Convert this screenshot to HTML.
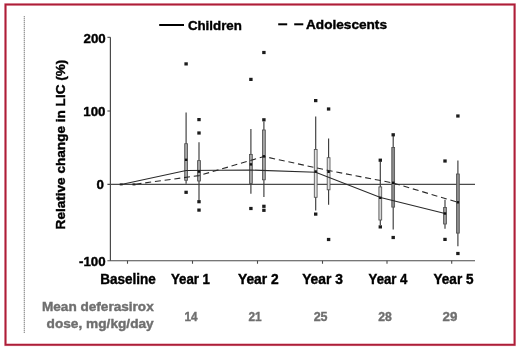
<!DOCTYPE html>
<html><head><meta charset="utf-8"><title>Relative change in LIC</title>
<style>
html,body{margin:0;padding:0;background:#fff;}
body{width:520px;height:351px;overflow:hidden;}
svg{display:block;}
text{font-family:"Liberation Sans",Arial,sans-serif;font-weight:bold;font-size:13.3px;fill:#000;stroke:#000;stroke-width:0.4px;}
.g{fill:#6f6f6f;stroke:#6f6f6f;}
</style></head><body>
<svg width="520" height="351" viewBox="0 0 520 351">
<rect x="0" y="0" width="520" height="351" fill="#fff"/>

<rect x="5.5" y="4.5" width="509.1" height="340.3" fill="none" stroke="#f3ccd2" stroke-width="2.8"/>
<rect x="5.5" y="4.5" width="509.1" height="340.3" fill="none" stroke="#ad1e38" stroke-width="1.9"/>
<line x1="24.3" y1="16" x2="24.3" y2="333" stroke="#cfcfcf" stroke-width="1"/>
<line x1="24.3" y1="16" x2="24.3" y2="333" stroke="#8c8c8c" stroke-width="1" stroke-dasharray="1 1"/>
<line x1="159.2" y1="25" x2="184" y2="25" stroke="#000" stroke-width="2"/>
<text transform="translate(187.9 30.0) scale(1.0 1)">Children</text>
<line x1="278.2" y1="24.3" x2="287.2" y2="24.3" stroke="#000" stroke-width="2"/>
<line x1="294.2" y1="24.3" x2="303.3" y2="24.3" stroke="#000" stroke-width="2"/>
<text transform="translate(306.0 29.1) scale(1.025 1)">Adolescents</text>
<line x1="110.4" y1="37.3" x2="110.4" y2="260.75" stroke="#4a4a4a" stroke-width="1.2"/>
<line x1="107.4" y1="260.75" x2="475" y2="260.75" stroke="#4a4a4a" stroke-width="1.2"/>
<line x1="107.4" y1="184.35" x2="475" y2="184.35" stroke="#4a4a4a" stroke-width="1.1"/>
<line x1="107.4" y1="37.3" x2="110.4" y2="37.3" stroke="#4a4a4a" stroke-width="1.1"/>
<line x1="107.4" y1="111.0" x2="110.4" y2="111.0" stroke="#4a4a4a" stroke-width="1.1"/>
<line x1="127.5" y1="260.75" x2="127.5" y2="263.75" stroke="#4a4a4a" stroke-width="1.1"/>
<line x1="192.5" y1="260.75" x2="192.5" y2="263.75" stroke="#4a4a4a" stroke-width="1.1"/>
<line x1="257.5" y1="260.75" x2="257.5" y2="263.75" stroke="#4a4a4a" stroke-width="1.1"/>
<line x1="322.5" y1="260.75" x2="322.5" y2="263.75" stroke="#4a4a4a" stroke-width="1.1"/>
<line x1="387.0" y1="260.75" x2="387.0" y2="263.75" stroke="#4a4a4a" stroke-width="1.1"/>
<line x1="451.7" y1="260.75" x2="451.7" y2="263.75" stroke="#4a4a4a" stroke-width="1.1"/>
<text transform="translate(105.7 42.5) scale(1.0 1)" text-anchor="end">200</text>
<text transform="translate(105.5 116.1) scale(1.0 1)" text-anchor="end">100</text>
<text transform="translate(103.9 188.6) scale(1.0 1)" text-anchor="end">0</text>
<text transform="translate(105.6 266.1) scale(1.0 1)" text-anchor="end">-100</text>
<text transform="translate(64.8 229.4) rotate(-90) scale(1.021 1)">Relative change in LIC (%)</text>
<text transform="translate(128 284.2) scale(0.98 1)" text-anchor="middle" style="font-size:13.8px">Baseline</text>
<text transform="translate(190.45 284.4) scale(0.96 1)" text-anchor="middle" style="font-size:13.8px">Year 1</text>
<text transform="translate(258.3 283.9) scale(1.0 1)" text-anchor="middle" style="font-size:13.8px">Year 2</text>
<text transform="translate(322.5 284.0) scale(1.0 1)" text-anchor="middle" style="font-size:13.8px">Year 3</text>
<text transform="translate(388.0 284.0) scale(0.955 1)" text-anchor="middle" style="font-size:13.8px">Year 4</text>
<text transform="translate(453.5 284.0) scale(0.98 1)" text-anchor="middle" style="font-size:13.8px">Year 5</text>
<text transform="translate(153.7 311.2) scale(1.021 1)" text-anchor="end" class="g">Mean deferasirox</text>
<text transform="translate(153.7 327.7) scale(1.029 1)" text-anchor="end" class="g">dose, mg/kg/day</text>
<text transform="translate(190.9 321.3) scale(0.88 1)" text-anchor="middle" class="g">14</text>
<text transform="translate(255.0 321.3) scale(0.89 1)" text-anchor="middle" class="g">21</text>
<text transform="translate(320.6 321.3) scale(0.94 1)" text-anchor="middle" class="g">25</text>
<text transform="translate(385.1 321.3) scale(0.92 1)" text-anchor="middle" class="g">28</text>
<text transform="translate(450.0 321.3) scale(1.0 1)" text-anchor="middle" class="g">29</text>
<line x1="186.1" y1="112.5" x2="186.1" y2="183.8" stroke="#3c3c3c" stroke-width="1.15"/>
<rect x="184.7" y="143.7" width="2.8" height="36.6" fill="#a4a4a4" stroke="#505050" stroke-width="0.85"/>
<rect x="184.4" y="62.3" width="3.4" height="3.2" fill="#1c1c1c"/>
<rect x="184.4" y="190.7" width="3.4" height="3.2" fill="#1c1c1c"/>
<line x1="199.0" y1="142.2" x2="199.0" y2="200.6" stroke="#3c3c3c" stroke-width="1.15"/>
<rect x="197.6" y="160.6" width="2.8" height="20.4" fill="#a4a4a4" stroke="#505050" stroke-width="0.85"/>
<rect x="197.3" y="118.0" width="3.4" height="3.2" fill="#1c1c1c"/>
<rect x="197.3" y="131.4" width="3.4" height="3.2" fill="#1c1c1c"/>
<rect x="197.3" y="200.1" width="3.4" height="3.2" fill="#1c1c1c"/>
<rect x="197.3" y="208.5" width="3.4" height="3.2" fill="#1c1c1c"/>
<line x1="250.9" y1="129.0" x2="250.9" y2="193.8" stroke="#3c3c3c" stroke-width="1.15"/>
<rect x="249.5" y="154.4" width="2.8" height="29.1" fill="#a4a4a4" stroke="#505050" stroke-width="0.85"/>
<rect x="249.2" y="77.8" width="3.4" height="3.2" fill="#1c1c1c"/>
<rect x="249.2" y="206.9" width="3.4" height="3.2" fill="#1c1c1c"/>
<line x1="263.9" y1="121.5" x2="263.9" y2="196.9" stroke="#3c3c3c" stroke-width="1.15"/>
<rect x="262.5" y="130.0" width="2.8" height="49.8" fill="#a4a4a4" stroke="#505050" stroke-width="0.85"/>
<rect x="262.2" y="50.9" width="3.4" height="3.2" fill="#1c1c1c"/>
<rect x="262.2" y="118.2" width="3.4" height="3.2" fill="#1c1c1c"/>
<rect x="262.2" y="204.7" width="3.4" height="3.2" fill="#1c1c1c"/>
<rect x="262.2" y="208.7" width="3.4" height="3.2" fill="#1c1c1c"/>
<line x1="315.7" y1="116.5" x2="315.7" y2="210.6" stroke="#3c3c3c" stroke-width="1.15"/>
<rect x="314.3" y="149.5" width="2.8" height="47.8" fill="#e2e2e2" stroke="#505050" stroke-width="0.85"/>
<rect x="314.0" y="99.0" width="3.4" height="3.2" fill="#1c1c1c"/>
<rect x="314.0" y="212.5" width="3.4" height="3.2" fill="#1c1c1c"/>
<line x1="328.6" y1="138.5" x2="328.6" y2="204.8" stroke="#3c3c3c" stroke-width="1.15"/>
<rect x="327.2" y="157.7" width="2.8" height="32.1" fill="#e2e2e2" stroke="#505050" stroke-width="0.85"/>
<rect x="326.9" y="107.4" width="3.4" height="3.2" fill="#1c1c1c"/>
<rect x="326.9" y="237.9" width="3.4" height="3.2" fill="#1c1c1c"/>
<line x1="380.3" y1="161.5" x2="380.3" y2="225.0" stroke="#3c3c3c" stroke-width="1.15"/>
<rect x="378.9" y="186.9" width="2.8" height="33.1" fill="#d4d4d4" stroke="#505050" stroke-width="0.85"/>
<rect x="378.6" y="158.6" width="3.4" height="3.2" fill="#1c1c1c"/>
<rect x="378.6" y="225.3" width="3.4" height="3.2" fill="#1c1c1c"/>
<line x1="393.2" y1="136.0" x2="393.2" y2="229.4" stroke="#3c3c3c" stroke-width="1.15"/>
<rect x="391.8" y="147.5" width="2.8" height="59.6" fill="#8c8c8c" stroke="#505050" stroke-width="0.85"/>
<rect x="391.5" y="133.2" width="3.4" height="3.2" fill="#1c1c1c"/>
<rect x="391.5" y="235.9" width="3.4" height="3.2" fill="#1c1c1c"/>
<line x1="445.0" y1="199.8" x2="445.0" y2="228.8" stroke="#3c3c3c" stroke-width="1.15"/>
<rect x="443.6" y="207.5" width="2.8" height="16.5" fill="#9a9a9a" stroke="#505050" stroke-width="0.85"/>
<rect x="443.3" y="159.4" width="3.4" height="3.2" fill="#1c1c1c"/>
<rect x="443.3" y="237.8" width="3.4" height="3.2" fill="#1c1c1c"/>
<line x1="457.9" y1="160.6" x2="457.9" y2="246.3" stroke="#3c3c3c" stroke-width="1.15"/>
<rect x="456.5" y="174.0" width="2.8" height="59.1" fill="#8c8c8c" stroke="#505050" stroke-width="0.85"/>
<rect x="456.2" y="114.4" width="3.4" height="3.2" fill="#1c1c1c"/>
<rect x="456.2" y="251.9" width="3.4" height="3.2" fill="#1c1c1c"/>
<polyline fill="none" stroke="#2a2a2a" stroke-width="1.05" points="121.2,184.4 186.1,170.5 250.9,170.0 315.7,172.3 380.5,197.5 445.0,213.5"/>
<polyline fill="none" stroke="#2a2a2a" stroke-width="1.1" stroke-dasharray="6 3.8" stroke-dashoffset="-1.5" points="134.0,184.4 199.0,175.6 263.9,156.5 328.5,170.5 393.2,183.0 457.9,202.3"/>
<rect x="184.9" y="158.6" width="2.4" height="2.4" fill="#111"/>
<rect x="197.8" y="170.4" width="2.4" height="2.4" fill="#111"/>
<rect x="249.7" y="163.2" width="2.4" height="2.4" fill="#111"/>
<rect x="262.7" y="155.1" width="2.4" height="2.4" fill="#111"/>
<rect x="314.5" y="170.3" width="2.4" height="2.4" fill="#111"/>
<rect x="327.4" y="170.6" width="2.4" height="2.4" fill="#111"/>
<rect x="379.1" y="196.6" width="2.4" height="2.4" fill="#111"/>
<rect x="392.0" y="181.6" width="2.4" height="2.4" fill="#111"/>
<rect x="443.8" y="212.3" width="2.4" height="2.4" fill="#111"/>
<rect x="456.7" y="201.1" width="2.4" height="2.4" fill="#111"/>
<rect x="119.7" y="183.4" width="3" height="2" fill="#222"/>
<rect x="132.5" y="183.4" width="3" height="2" fill="#222"/>
</svg></body></html>
